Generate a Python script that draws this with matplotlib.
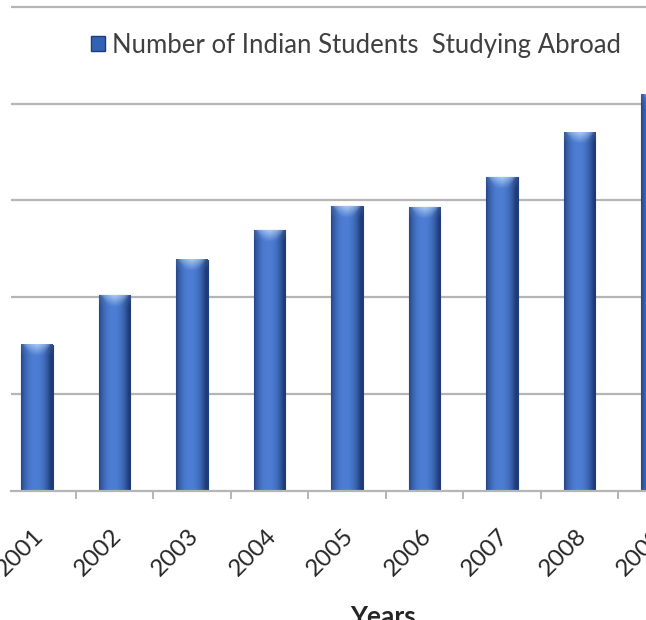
import numpy as np
import matplotlib.pyplot as plt
from matplotlib.patches import Patch
from matplotlib.colors import to_rgb
import matplotlib.transforms as mtransforms

years = ['2001', '2002', '2003', '2004', '2005', '2006', '2007', '2008', '2009']
students = [75500, 101000, 119500, 134500, 147000, 146500, 162000, 185000, 204500]
grid_step = 50000
series_name = 'Number of Indian Students  Studying Abroad'

plt.rcParams['font.family'] = ['Lato', 'DejaVu Sans']

W, H = 646, 620
X_LO, X_HI = -0.335, 8.6
UNIT = 77.5  # px per category
fig = plt.figure(figsize=(W / 100, H / 100), dpi=100)
# axes run past the right edge of the figure, as in the cropped original
ax = fig.add_axes([11 / W, 1 - 491 / H, (X_HI - X_LO) * UNIT / W, 491 / H])

x = np.arange(len(years))
bars = ax.bar(x, students, width=0.41, color='#3f6cc0', edgecolor='#203f7e',
              linewidth=0.8, zorder=2)

# ticks first (set_xticks can widen the view), limits after
ax.set_yticks(np.arange(1, 6) * grid_step)
ax.set_xticks(x)
ax.set_xticks(x + 0.5, minor=True)
ax.set_xlim(X_LO, X_HI)
ax.set_ylim(0, 5.07 * grid_step)

# shaded fill for each bar (dark edges, lighter cap at the top)
dark = np.array(to_rgb('#1e3b78'))
mid = np.array(to_rgb('#4d7ed4'))
light = np.array(to_rgb('#a8c8f2'))
fig.canvas.draw()
for b in bars:
    x0, w, h = b.get_x(), b.get_width(), b.get_height()
    p0 = ax.transData.transform((x0, 0))
    p1 = ax.transData.transform((x0 + w, h))
    nw = max(int(p1[0] - p0[0]), 2)
    nh = max(int(p1[1] - p0[1]), 2)
    t = np.linspace(-1, 1, nw)
    prof = 1 - np.clip(np.abs(t + 0.1), 0, 1) ** 2.2
    row = dark[None, :] + (mid - dark)[None, :] * prof[:, None]
    img = np.repeat(row[None, :, :], nh, axis=0)
    cap = 11
    for r in range(min(cap, nh)):
        f = (1 - r / cap)
        wedge = np.clip(1 - np.abs(t) / (0.9 - 0.5 * r / cap), 0, 1) ** 0.6
        a = (0.85 * f * wedge + 0.15 * f)[:, None]
        img[r] = img[r] * (1 - a) + light[None, :] * a
    ax.imshow(img, extent=(x0, x0 + w, 0, h), aspect='auto', zorder=2,
              clip_path=b, interpolation='bilinear')
ax.set_xlim(X_LO, X_HI)
ax.set_ylim(0, 5.07 * grid_step)

# grid and axes
ax.yaxis.grid(True, color='#b5b5b5', lw=1.6)
ax.set_axisbelow(True)
ax.tick_params(axis='y', left=False, labelleft=False)
for s in ['left', 'right', 'top']:
    ax.spines[s].set_visible(False)
ax.spines['bottom'].set_color('#b5b5b5')
ax.spines['bottom'].set_linewidth(1.6)

ax.set_xticklabels(years, rotation=45, ha='right', rotation_mode='anchor',
                   fontsize=17.5, color='#262626')
ax.tick_params(axis='x', which='major', length=0, pad=24.5)
ax.tick_params(axis='x', which='minor', length=6, width=1.4, color='#b5b5b5')
shift = mtransforms.ScaledTranslation(-4 / 100, 0, fig.dpi_scale_trans)
for lab in ax.get_xticklabels():
    lab.set_transform(lab.get_transform() + shift)

fig.legend(handles=[Patch(facecolor='#3262b4', edgecolor='#1e3b78', label=series_name)],
           loc='center', bbox_to_anchor=(356 / W, 1 - 45 / H), frameon=False,
           fontsize=18.5, labelcolor='#404040', handlelength=0.55, handleheight=0.55,
           handletextpad=0.3)

fig.text(383 / W, 1 - 605 / H, 'Years', ha='center', va='top', fontsize=19,
         fontweight='bold', color='#262626')

fig.savefig('out.png', dpi=100)
